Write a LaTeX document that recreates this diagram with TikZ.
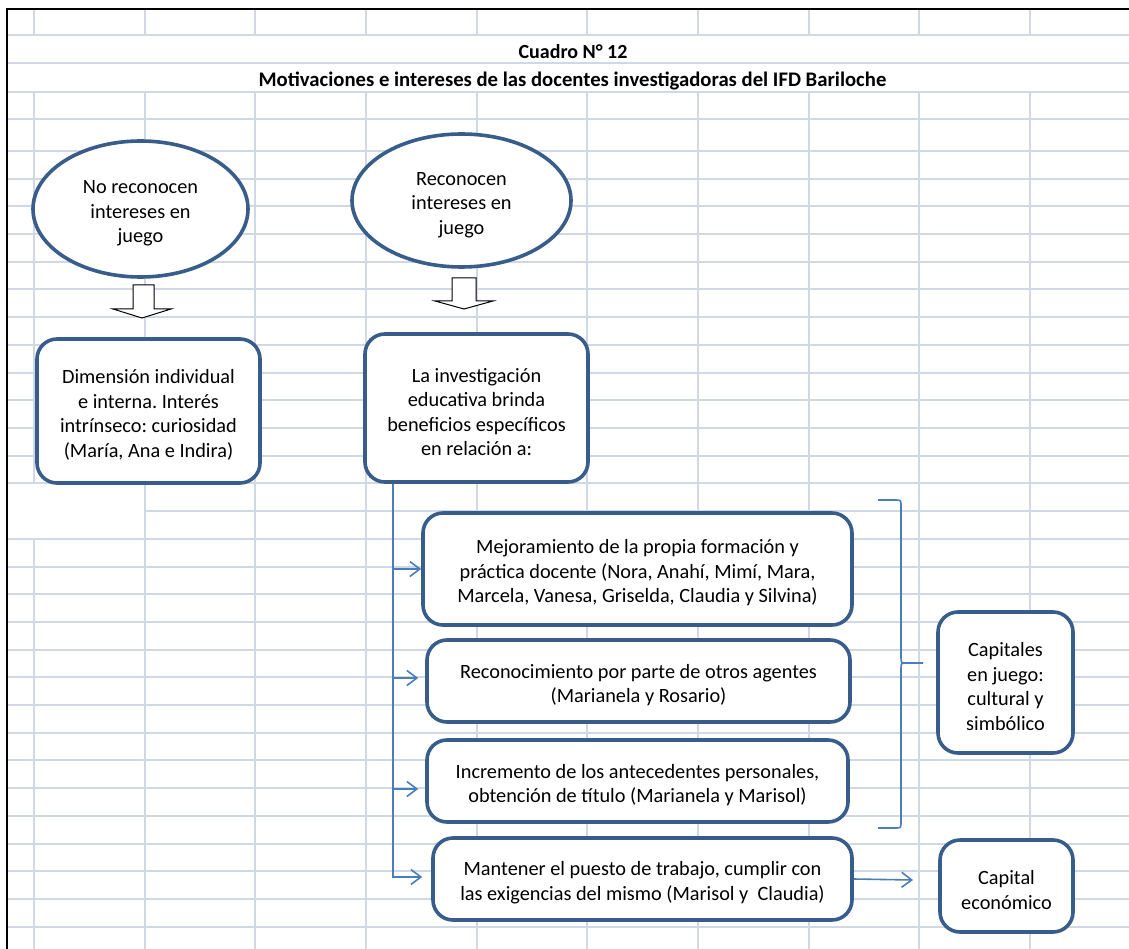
\documentclass[tikz,border=0pt]{standalone}
\usepackage{fontspec}
\setmainfont{Carlito}
\usetikzlibrary{arrows.meta,shapes.geometric}
\definecolor{gridc}{RGB}{208,215,229}
\definecolor{shapeb}{RGB}{56,93,138}
\definecolor{connb}{RGB}{74,126,187}
\frenchspacing
\newcommand\tsr{\rule{0pt}{22pt}}
\begin{document}
\begin{tikzpicture}[x=1pt,y=-1pt,
  txt/.style={font=\fontsize{20.3}{24.6}\selectfont, align=center, text=black},
  oval/.style={ellipse, draw=shapeb, line width=3.6pt, fill=white, inner sep=0pt, txt},
  rbox/.style={rectangle, rounded corners=20pt, draw=shapeb, line width=3.6pt, fill=white, inner sep=0pt, txt},
  conn/.style={draw=connb, line width=1.6pt, -{Straight Barb[length=10pt,width=15pt]}},
  gridline/.style={draw=gridc, line width=2pt},
  blockarrow/.style={draw=black, line width=1pt, fill=white},
  bracel/.style={draw=connb, line width=1.6pt},
  ttl/.style={font=\bfseries\fontsize{20}{24}\selectfont, anchor=base}]
\useasboundingbox (0,0) rectangle (1129,949);
\fill[white] (0,0) rectangle (1129,949);
% grid
\foreach \y in {35,63,92,119,151} \draw[gridline] (7,\y) -- (1129,\y);
\foreach \k in {1,...,28} {
  \pgfmathsetmacro\yy{151+27.7*\k}
  \ifnum\k=13 \draw[gridline] (144.7,\yy) -- (1129,\yy);
  \else \draw[gridline] (7,\yy) -- (1129,\yy); \fi
}
\foreach \c in {1,...,9} {
  \pgfmathsetmacro\xx{34+110.67*\c}
  \draw[gridline] (\xx,9) -- (\xx,35);
  \draw[gridline] (\xx,92) -- (\xx,949);
}
\draw[gridline] (34,9) -- (34,35);
\draw[gridline] (34,92) -- (34,483.4);
\draw[gridline] (34,538.8) -- (34,949);
% border
\draw[black, line width=2.5pt] (7,949) -- (7,9) -- (1129,9);
% titles
\node[ttl] (t1) at (573,59) {Cuadro N° 12};
\node[ttl, font=\bfseries\fontsize{20.7}{24}\selectfont] (t2) at (572.5,87) {Motivaciones e intereses de las docentes investigadoras del IFD Bariloche};
% ellipses
\node[oval, minimum width=215pt, minimum height=136pt] (e1) at (140.5,209) {\tsr No reconocen\\intereses en\\juego};
\node[oval, minimum width=219pt, minimum height=133pt] (e2) at (461.5,200.5) {\tsr Reconocen\\intereses en\\juego};
% block arrows
\draw[blockarrow] (133,285) -- (154,285) -- (154,309) -- (171,309) -- (142,318) -- (113,309) -- (133,309) -- cycle;
\draw[blockarrow] (452,278) -- (476,278) -- (476,301) -- (493,301) -- (464,309) -- (435,301) -- (452,301) -- cycle;
% boxes
\node[rbox, minimum width=223pt, minimum height=144pt] (b1) at (148.5,411) {\tsr Dimensión individual\\e interna. Interés\\intrínseco: curiosidad\\(María, Ana e Indira)};
\node[rbox, minimum width=223pt, minimum height=148pt] (b2) at (476.5,408) {\tsr La investigación\\educativa brinda\\beneficios específicos\\en relación a:};
\node[rbox, minimum width=429pt, minimum height=112pt] (ba) at (637.5,569) {\tsr Mejoramiento de la propia formación y\\práctica docente (Nora, Anahí, Mimí, Mara,\\Marcela, Vanesa, Griselda, Claudia y Silvina)};
\node[rbox, minimum width=423pt, minimum height=82pt] (bb) at (638.5,681) {\tsr Reconocimiento por parte de otros agentes\\(Marianela y Rosario)};
\node[rbox, minimum width=421pt, minimum height=82pt] (bc) at (637.5,781) {\tsr Incremento de los antecedentes personales,\\obtención de título (Marianela y Marisol)};
\node[rbox, minimum width=419pt, minimum height=82pt] (bd) at (642.5,879) {\tsr Mantener el puesto de trabajo, cumplir con\\las exigencias del mismo (Marisol y~\ Claudia)};
\node[rbox, minimum width=135pt, minimum height=141pt] (c1) at (1005.5,682.5) {\tsr Capitales\\en juego:\\cultural y\\simbólico};
\node[rbox, minimum width=133pt, minimum height=92pt] (c2) at (1006.5,886) {\tsr Capital\\económico};
% connectors
\coordinate (trunk) at (393,0);
\coordinate (bdin) at ([xshift=-9pt,yshift=2pt]bd.west);
\coordinate (bbin) at ([xshift=-7pt,yshift=3pt]bb.west);
\coordinate (bcin) at ([xshift=-7pt,yshift=-8pt]bc.west);
\draw[conn] (b2.south -| trunk) |- (bdin);
\draw[conn] (trunk |- ba.west) -- (ba.west);
\draw[conn] (trunk |- bbin) -- (bbin);
\draw[conn] (trunk |- bcin) -- (bcin);
\coordinate (econtip) at (913,880);
\draw[conn] (bd.east) -- (econtip);
% brace
\draw[bracel] (878,500) -- (895,500) .. controls (901,500) .. (901,506) -- (901,657) .. controls (901,663) .. (907,663) -- (923,663);
\draw[bracel] (907,663) .. controls (901,663) .. (901,669) -- (901,822) .. controls (901,828) .. (895,828) -- (878,828);
\end{tikzpicture}
\end{document}
